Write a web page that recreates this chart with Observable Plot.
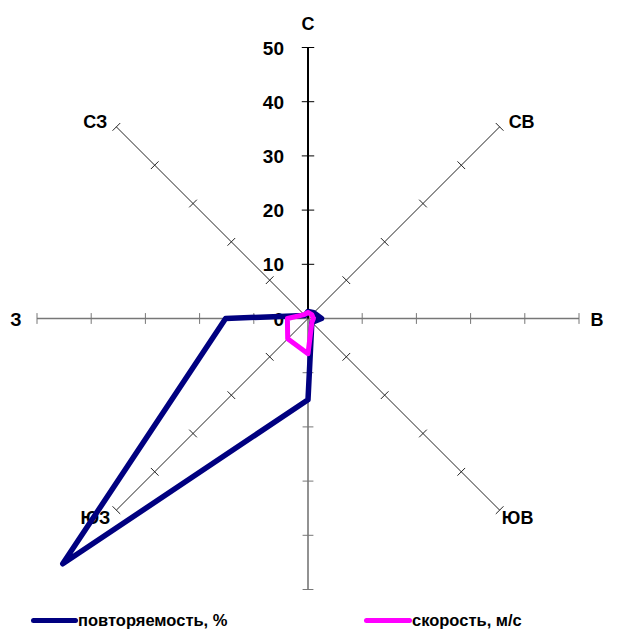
<!DOCTYPE html>
<html>
<head>
<meta charset="utf-8">
<script src="https://cdn.jsdelivr.net/npm/d3@7"></script>
<script src="https://cdn.jsdelivr.net/npm/@observablehq/plot@0.6"></script>
<style>
  html, body { margin: 0; padding: 0; background: #fff; }
  #wrap { width: 638px; font-family: "Liberation Sans", Arial, sans-serif; }
  #legend { position: relative; width: 638px; height: 29px; font-weight: bold; font-size: 16.5px; color: #000; }
  .sw { position: absolute; height: 5px; border-radius: 3px; top: 18px; }
  .lt { position: absolute; top: 11px; line-height: 19px; white-space: nowrap; }
</style>
</head>
<body>
<div id="wrap">
  <div id="chart"></div>
  <div id="legend"></div>
</div>
<script>
// ---- data ----
const directions = ["С", "СВ", "В", "ЮВ", "Ю", "ЮЗ", "З", "СЗ"];
const directionLabels = ["С", "СВ", "В", "ЮВ", "", "ЮЗ", "З", "СЗ"];
const frequency = [1.3, 1.5, 2.5, 1, 15, 64, 15.2, 0.8];  // повторяемость, %
const speed = [1.1, 1, 1, 1, 6.5, 5.3, 3.8, 1];           // скорость, м/с
const tickValues = [0, 10, 20, 30, 40, 50];
const seriesNames = ["повторяемость, %", "скорость, м/с"];
const seriesColors = ["#000080", "#FF00FF"];

// ---- geometry ----
const W = 638, H = 600;
const cx = 307.5, cy = 318, rMax = 50, rPx = 271;
const k = rPx / rMax;
const angle = i => i * Math.PI / 4;
const pt = (r, i) => ({x: r * Math.sin(angle(i)), y: r * Math.cos(angle(i))});

const series = [];
[frequency, speed].forEach((vals, s) => {
  vals.forEach((v, i) => series.push({...pt(v, i), s: seriesNames[s], i}));
});

const axes = directions.map((d, i) => ({d, i, x1: 0, y1: 0, x2: pt(rMax, i).x, y2: pt(rMax, i).y}));

const ticks = [];
directions.forEach((d, i) => {
  tickValues.filter(t => t > 0).forEach(t => {
    const p = pt(t, i);
    const a = angle(i);
    const hl = i === 0 ? 1.15 : 1.0;
    ticks.push({i, x1: p.x - hl * Math.cos(a), y1: p.y + hl * Math.sin(a), x2: p.x + hl * Math.cos(a), y2: p.y - hl * Math.sin(a)});
  });
});

// label offsets in pixels from the end of each axis
const labelOffsets = [[0, -23], [22, -5], [18, 2], [18, 8], [0, 0], [-21, 8], [-21, 2], [-21, -5]];
const dirLabelData = directionLabels.map((l, i) => {
  const p = pt(rMax, i);
  return {l, i, x: p.x + labelOffsets[i][0] / k, y: p.y - labelOffsets[i][1] / k};
}).filter(d => d.l);

const axisStroke = i => (i === 0 ? "#000" : (i % 2 === 0 ? "#777" : "#222"));
const axisWidth = i => (i === 0 ? 2 : (i % 2 === 0 ? 1.6 : 1));

const chart = Plot.plot({
  width: W, height: H,
  margin: 0,
  x: {domain: [-cx / k, (W - cx) / k], axis: null},
  y: {domain: [-(H - cy) / k, cy / k], axis: null},
  style: {fontFamily: "'Liberation Sans', Arial, sans-serif", background: "#fff"},
  marks: [
    Plot.link(axes.filter(a => a.i !== 0), {x1: "x1", y1: "y1", x2: "x2", y2: "y2",
      stroke: d => axisStroke(d.i), strokeWidth: d => axisWidth(d.i)}),
    Plot.link(ticks.filter(t => t.i !== 0), {x1: "x1", y1: "y1", x2: "x2", y2: "y2",
      stroke: d => axisStroke(d.i), strokeWidth: 1}),
    Plot.link(axes.filter(a => a.i === 0), {x1: "x1", y1: "y1", x2: "x2", y2: "y2", stroke: "#000", strokeWidth: 2}),
    Plot.link(ticks.filter(t => t.i === 0), {x1: "x1", y1: "y1", x2: "x2", y2: "y2", stroke: "#000", strokeWidth: 1}),
    Plot.text(tickValues, {x: 0, y: d => d, text: d => String(d), textAnchor: "end",
      dx: -24, dy: 1, fontSize: 19, fontWeight: "bold", fill: "#000"}),
    Plot.text(dirLabelData, {x: "x", y: "y", text: "l",
      fontSize: 18, fontWeight: "bold", fill: "#000"}),
    Plot.line(series.filter(d => d.s === seriesNames[0]), {x: "x", y: "y", curve: "linear-closed",
      stroke: seriesColors[0], strokeWidth: 5.5, strokeLinejoin: "round"}),
    Plot.line(series.filter(d => d.s === seriesNames[1]), {x: "x", y: "y", curve: "linear-closed",
      stroke: seriesColors[1], strokeWidth: 5, strokeLinejoin: "round"})
  ]
});
document.getElementById("chart").append(chart);

// ---- legend ----
const legend = document.getElementById("legend");
const legendPos = [[31, 78], [364, 412]];
seriesNames.forEach((name, s) => {
  const sw = document.createElement("div");
  sw.className = "sw";
  sw.style.left = legendPos[s][0] + "px";
  sw.style.width = (legendPos[s][1] - legendPos[s][0]) + "px";
  sw.style.background = seriesColors[s];
  legend.append(sw);
  const t = document.createElement("div");
  t.className = "lt";
  t.style.left = legendPos[s][1] + "px";
  t.textContent = name;
  legend.append(t);
});
</script>
</body>
</html>
